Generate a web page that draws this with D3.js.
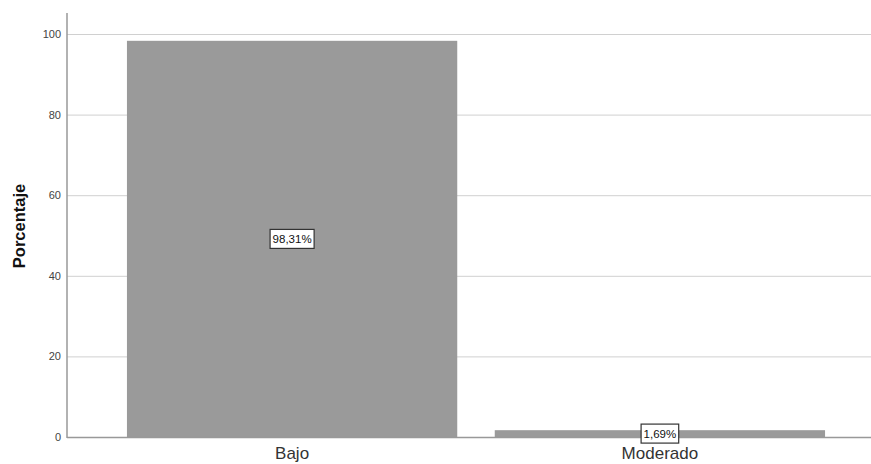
<!DOCTYPE html>
<html><head><meta charset="utf-8">
<script src="https://cdn.jsdelivr.net/npm/d3@7"></script>
<style>body{margin:0;background:#fff;}svg{display:block;font-family:Arial,"Liberation Sans",sans-serif;}</style>
</head><body><svg id="c" width="871" height="464"></svg>
<script>
const categories = ["Bajo", "Moderado"];
const values = [98.31, 1.69];
const valueLabels = ["98,31%", "1,69%"];
const yTicks = [0, 20, 40, 60, 80, 100];
const yTitle = "Porcentaje";

const FONT = "Arial, 'Liberation Sans', sans-serif";
const svg = d3.select("#c");
const y = d3.scaleLinear().domain([0, 100]).range([437, 34]);
const x = d3.scaleBand().domain(categories).range([67, 885]).paddingInner(0.102).paddingOuter(0.163);

// gridlines
svg.append("g").selectAll("line").data(yTicks.filter(d => d > 0)).join("line")
  .attr("x1", 67).attr("x2", 871).attr("y1", d => y(d) + 0.5).attr("y2", d => y(d) + 0.5)
  .attr("stroke", "#d0d0d0").attr("stroke-width", 1);

// bars
svg.append("g").selectAll("rect").data(values).join("rect")
  .attr("x", (d, i) => x(categories[i])).attr("width", x.bandwidth())
  .attr("y", d => y(d)).attr("height", d => y(0) - y(d))
  .attr("fill", "#9a9a9a");

// y axis
const yAxis = d3.axisLeft(y).tickValues(yTicks).tickSize(0).tickPadding(6);
const ga = svg.append("g").attr("transform", "translate(67,0)").call(yAxis);
ga.select(".domain").remove();
ga.selectAll("text").attr("font-size", 11).attr("fill", "#444").style("font-family", FONT);
svg.append("line").attr("x1", 67).attr("x2", 67).attr("y1", 13).attr("y2", 438).attr("stroke", "#999").attr("stroke-width", 1.5);
svg.append("line").attr("x1", 67).attr("x2", 871).attr("y1", 437.5).attr("y2", 437.5).attr("stroke", "#999").attr("stroke-width", 1.5);

// x axis labels
const xAxis = d3.axisBottom(x).tickSize(0);
const gx = svg.append("g").attr("transform", "translate(0,437)").call(xAxis);
gx.select(".domain").remove();
gx.selectAll("text").attr("dy", null).attr("y", 22).attr("font-size", 17).attr("fill", "#333").style("font-family", FONT);

// y title
svg.append("text").attr("transform", "translate(25,226) rotate(-90)")
  .attr("text-anchor", "middle").attr("font-size", 16.5).attr("font-weight", "bold").attr("fill", "#111").text(yTitle);

// value labels
const lab = svg.append("g").selectAll("g").data(values).join("g")
  .attr("transform", (d, i) => "translate(" + (x(categories[i]) + x.bandwidth() / 2) + "," + (y(d / 2)) + ")");
lab.each(function(d, i) {
  const g = d3.select(this);
  const t = g.append("text").attr("text-anchor", "middle").attr("dy", "0.36em").attr("font-size", 11.5).attr("fill", "#111").text(valueLabels[i]);
  const bb = t.node().getBBox();
  g.insert("rect", "text").attr("x", bb.x - 2.5).attr("y", -9.5).attr("width", bb.width + 5).attr("height", 19)
    .attr("fill", "#fff").attr("stroke", "#333").attr("stroke-width", 1.2);
});
</script></body></html>
